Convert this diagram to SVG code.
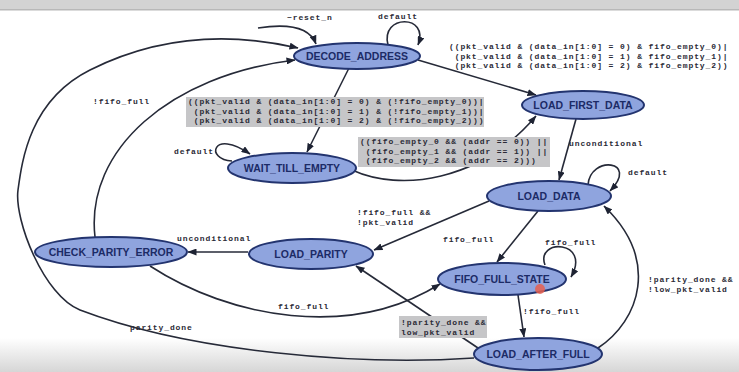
<svg xmlns="http://www.w3.org/2000/svg" width="739" height="372" viewBox="0 0 739 372">
<defs>
<linearGradient id="bot" x1="0" y1="0" x2="0" y2="1">
<stop offset="0" stop-color="#ffffff"/>
<stop offset="1" stop-color="#d6d6d6"/>
</linearGradient>
<marker id="ah" markerWidth="9" markerHeight="7" refX="8.5" refY="3.5" orient="auto" markerUnits="userSpaceOnUse">
<path d="M0,0 L9,3.5 L0,7 z" fill="#1e2333"/>
</marker>
<style>
.node ellipse{fill:#8fa4de;stroke:#23346f;stroke-width:2}
.node text{font-family:"Liberation Sans",Arial,sans-serif;font-weight:bold;font-size:10.5px;fill:#1c2b66;text-anchor:middle}
.edge{fill:none;stroke:#262a38;stroke-width:1.6;marker-end:url(#ah)}
.lbl{font-family:"Liberation Mono","Courier New",monospace;font-size:8px;font-weight:bold;letter-spacing:0.9px;fill:#2a2a36;white-space:pre}
.bg{fill:#c6c6c8}
</style>
</defs>
<rect width="739" height="372" fill="#ffffff"/>
<rect x="0" y="0" width="739" height="9" fill="#d3d3d3"/>
<rect x="0" y="9" width="739" height="1.5" fill="#b8b8b8"/>
<rect x="0" y="338" width="739" height="34" fill="url(#bot)"/>

<g id="connectors">
<path class="edge" d="M258,28 C290,23 310,28 316,44"/>
<path class="edge" d="M388,45 C380,14 430,14 418,45"/>
<path class="edge" d="M418,60 L536,95"/>
<path class="edge" d="M349,68 L307,152"/>
<path class="edge" d="M232,161 C205,160 212,128 250,154"/>
<path class="edge" d="M352,170 C400,192 480,182 536,116"/>
<path class="edge" d="M576,119 L559,180"/>
<path class="edge" d="M588,185 C590,155 640,160 610,191"/>
<path class="edge" d="M489,201 L374,250"/>
<path class="edge" d="M538,211 L497,262"/>
<path class="edge" d="M545,265 C535,238 592,240 571,277"/>
<path class="edge" d="M518,295 L524,337"/>
<path class="edge" d="M598,348 C640,320 660,260 604,206"/>
<path class="edge" d="M478,348 L356,266"/>
<path class="edge" d="M248,252 L188,252"/>
<path class="edge" d="M150,266 C230,318 350,340 440,284"/>
<path class="edge" d="M95,237 C85,150 170,75 295,60"/>
<path class="edge" d="M474,358 C360,366 190,352 80,310 C44,296 14,220 18,190 C22,160 30,100 90,70 C150,40 220,30 298,48"/>
</g>

<g id="labels">
<text class="lbl" x="287" y="20">~reset_n</text>
<text class="lbl" x="378" y="19">default</text>
<text class="lbl" x="449" y="49">((pkt_valid &amp; (data_in[1:0] = 0) &amp; fifo_empty_0)|</text>
<text class="lbl" x="449" y="58.5"> (pkt_valid &amp; (data_in[1:0] = 1) &amp; fifo_empty_1)|</text>
<text class="lbl" x="449" y="68"> (pkt_valid &amp; (data_in[1:0] = 2) &amp; fifo_empty_2))</text>
<rect class="bg" x="186" y="97" width="298" height="30"/>
<text class="lbl" x="188" y="104">((pkt_valid &amp; (data_in[1:0] = 0) &amp; (!fifo_empty_0))|</text>
<text class="lbl" x="188" y="113.5"> (pkt_valid &amp; (data_in[1:0] = 1) &amp; (!fifo_empty_1))|</text>
<text class="lbl" x="188" y="123"> (pkt_valid &amp; (data_in[1:0] = 2) &amp; (!fifo_empty_2)))</text>
<text class="lbl" x="93" y="104">!fifo_full</text>
<text class="lbl" x="174" y="154">default</text>
<rect class="bg" x="358" y="137" width="192" height="30"/>
<text class="lbl" x="360" y="144">((fifo_empty_0 &amp;&amp; (addr == 0)) ||</text>
<text class="lbl" x="360" y="153.5"> (fifo_empty_1 &amp;&amp; (addr == 1)) ||</text>
<text class="lbl" x="360" y="163"> (fifo_empty_2 &amp;&amp; (addr == 2)))</text>
<text class="lbl" x="569" y="146">unconditional</text>
<text class="lbl" x="628" y="175">default</text>
<text class="lbl" x="357" y="215">!fifo_full &amp;&amp;</text>
<text class="lbl" x="357" y="225">!pkt_valid</text>
<text class="lbl" x="443" y="242">fifo_full</text>
<text class="lbl" x="545" y="245">fifo_full</text>
<text class="lbl" x="177" y="241">unconditional</text>
<text class="lbl" x="278" y="309">fifo_full</text>
<text class="lbl" x="523" y="314">!fifo_full</text>
<text class="lbl" x="648" y="282">!parity_done &amp;&amp;</text>
<text class="lbl" x="648" y="292">!low_pkt_valid</text>
<text class="lbl" x="130" y="330">parity_done</text>
<rect class="bg" x="399" y="316" width="88" height="22"/>
<text class="lbl" x="401" y="325">!parity_done &amp;&amp;</text>
<text class="lbl" x="401" y="335">low_pkt_valid</text>
</g>

<g id="DECODE_ADDRESS" class="node"><ellipse cx="357" cy="56" rx="63" ry="13"/><text x="357" y="60">DECODE_ADDRESS</text></g>
<g id="LOAD_FIRST_DATA" class="node"><ellipse cx="583" cy="105" rx="61" ry="14"/><text x="583" y="109">LOAD_FIRST_DATA</text></g>
<g id="WAIT_TILL_EMPTY" class="node"><ellipse cx="292" cy="168" rx="64" ry="15"/><text x="292" y="172">WAIT_TILL_EMPTY</text></g>
<g id="LOAD_DATA" class="node"><ellipse cx="549" cy="196" rx="62" ry="15"/><text x="549" y="200">LOAD_DATA</text></g>
<g id="LOAD_PARITY" class="node"><ellipse cx="311" cy="254" rx="62" ry="15"/><text x="311" y="258">LOAD_PARITY</text></g>
<g id="CHECK_PARITY_ERROR" class="node"><ellipse cx="111" cy="252" rx="76" ry="15"/><text x="111" y="256">CHECK_PARITY_ERROR</text></g>
<g id="FIFO_FULL_STATE" class="node"><ellipse cx="502" cy="279" rx="64" ry="16"/><text x="502" y="283">FIFO_FULL_STATE</text></g>
<g id="LOAD_AFTER_FULL" class="node"><ellipse cx="538" cy="354" rx="64" ry="16"/><text x="538" y="358">LOAD_AFTER_FULL</text></g>
<circle cx="540" cy="289" r="5" fill="#e8604f" opacity="0.85"/>
</svg>
